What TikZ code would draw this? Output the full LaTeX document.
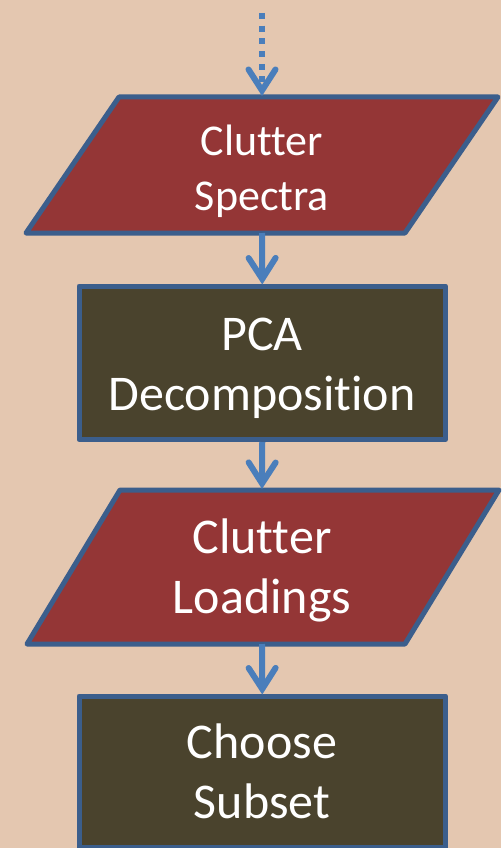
\documentclass[tikz,border=0pt]{standalone}
\usepackage{fontspec}
\setmainfont{Carlito}[Ligatures=CommonOff]
\usetikzlibrary{arrows.meta}
\definecolor{bg}{HTML}{E4C7B0}
\definecolor{redfill}{HTML}{943636}
\definecolor{boxfill}{HTML}{4A432D}
\definecolor{edge}{HTML}{3B5E8C}
\definecolor{arrowblue}{HTML}{4A7EBB}
\begin{document}
\begin{tikzpicture}[x=1pt,y=-1pt,
  para/.style={draw=edge, fill=redfill, line width=5pt, line join=round},
  procbox/.style={rectangle, draw=edge, fill=boxfill, line width=5pt, line join=round,
    minimum width=366.5pt, inner sep=0pt},
  smalltxt/.style={text=white, align=center, anchor=base, inner sep=0pt,
    font=\fontsize{44}{55}\selectfont},
  bigtxt/.style={text=white, align=center, anchor=base, inner sep=0pt,
    font=\fontsize{50}{60}\selectfont},
  flow/.style={draw=arrowblue, line width=6pt,
    -{Straight Barb[length=21pt, width=27pt, line width=6pt, line cap=round]}},
  dotflow/.style={flow, dash pattern=on 6pt off 6.7pt}
]
\fill[bg] (0,0) rectangle (501,848);
\useasboundingbox (0,0) rectangle (501,848);

% parallelogram 1
\draw[para] (119,97) -- (498,97) -- (405,233) -- (26,233) -- cycle;
\coordinate (csn) at (262,96);
\coordinate (css) at (262,233);
\coordinate (start) at (262,13);

% box 1
\node[procbox, minimum height=153.5pt] (pca) at (262.25,362.75) {};

% parallelogram 2
\draw[para] (120,490) -- (499,490) -- (405,644) -- (27,644) -- cycle;
\coordinate (cln) at (262,489);
\coordinate (cls) at (262,644);

% box 2
\node[procbox, minimum height=151.5pt] (sub) at (262.25,771.75) {};

% connectors
\draw[dotflow] (start) -- (csn);
\draw[flow] (css) -- ([yshift=-1pt]pca.north);
\draw[flow] (pca.south) -- (cln);
\draw[flow] (cls) -- ([yshift=-1pt]sub.north);

% texts (anchor=base is the last line's baseline)
\node[smalltxt] (cst) at (262,210) {Clutter\\Spectra};
\node[bigtxt] (pcat) at (262,410) {PCA\\Decomposition};
\node[bigtxt] (clt) at (262,613) {Clutter\\Loadings};
\node[bigtxt] (subt) at (262,818) {Choose\\Subset};
\end{tikzpicture}
\end{document}
